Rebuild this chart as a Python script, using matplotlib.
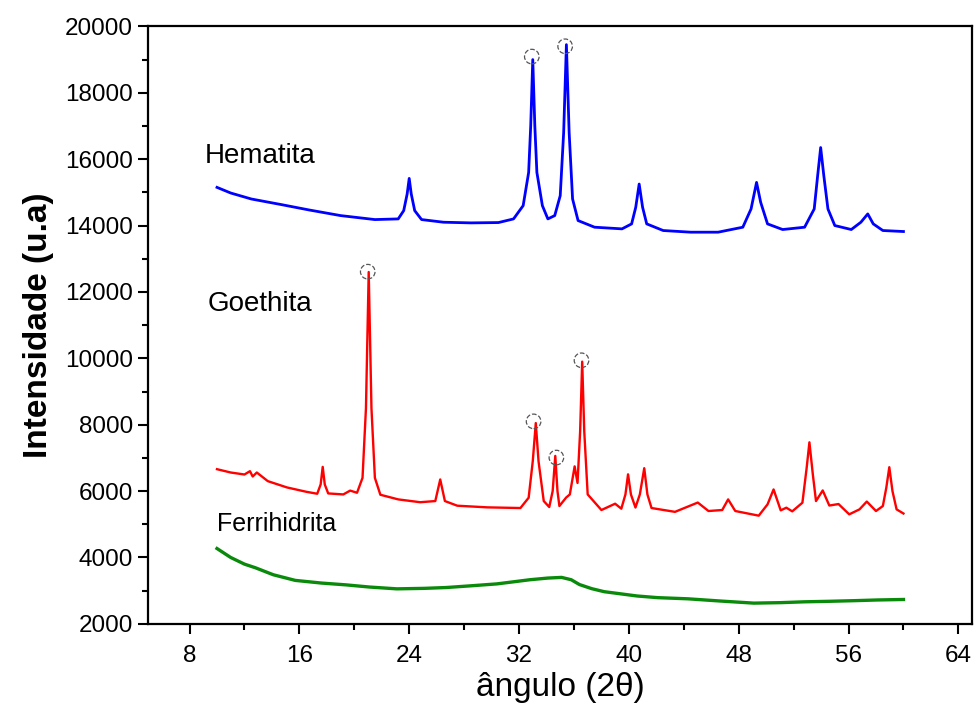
import matplotlib
matplotlib.use('Agg')
import matplotlib.pyplot as plt
from matplotlib.ticker import MultipleLocator

plt.rcParams['font.family'] = ['Liberation Sans', 'DejaVu Sans']

# Hematita (azul)
hem_x = [10.0, 11.0, 12.5, 14.7, 16.7, 19.0, 21.5, 23.2, 23.6, 23.85, 24.0, 24.15, 24.4, 24.9,
         26.5, 28.5, 30.5, 31.6, 32.3, 32.7, 32.85, 33.0, 33.15, 33.3, 33.7, 34.1, 34.6, 35.0,
         35.25, 35.45, 35.65, 35.9, 36.3, 37.5, 39.5, 40.2, 40.5, 40.75, 41.0, 41.3, 42.5, 44.5,
         46.5, 48.3, 48.9, 49.3, 49.6, 50.1, 51.2, 52.8, 53.5, 53.75, 53.97, 54.2, 54.5, 55.0,
         56.2, 56.9, 57.4, 57.8, 58.5, 60.0]
hem_y = [15150, 14980, 14800, 14630, 14470, 14300, 14180, 14200, 14450, 14950, 15420, 14950, 14450, 14180,
         14100, 14080, 14090, 14200, 14600, 15600, 17000, 19000, 17000, 15600, 14600, 14200, 14300, 14900,
         16800, 19450, 16800, 14800, 14150, 13950, 13900, 14050, 14550, 15250, 14550, 14050, 13850, 13800,
         13800, 13950, 14500, 15300, 14700, 14050, 13880, 13950, 14500, 15500, 16350, 15500, 14500, 14000,
         13880, 14100, 14350, 14050, 13850, 13820]

# Goethita (vermelho)
goe_x = [10.0, 11.0, 12.0, 12.4, 12.6, 12.9, 13.7, 15.1, 16.5, 17.3, 17.55, 17.7, 17.85, 18.1,
         19.2, 19.7, 20.2, 20.6, 20.85, 21.05, 21.25, 21.5, 21.9, 23.2, 24.8, 25.9, 26.26, 26.6,
         27.5, 29.7, 32.1, 32.7, 33.0, 33.22, 33.42, 33.8, 34.2, 34.45, 34.64, 34.8, 34.94, 35.43,
         35.7, 36.05, 36.26, 36.45, 36.6, 36.75, 37.0, 38.0, 39.0, 39.45, 39.75, 39.94, 40.15, 40.48,
         40.8, 41.12, 41.35, 41.65, 43.36, 45.02, 45.8, 46.8, 47.23, 47.75, 49.46, 50.1, 50.54, 51.06,
         51.47, 51.9, 52.64, 52.95, 53.15, 53.4, 53.63, 54.12, 54.6, 55.27, 56.05, 56.8, 57.33, 58.0,
         58.5, 58.75, 58.97, 59.2, 59.5, 60.0]
goe_y = [6660, 6560, 6500, 6600, 6440, 6560, 6300, 6110, 5980, 5920, 6200, 6730, 6200, 5930,
         5900, 6015, 5950, 6400, 8500, 12600, 8500, 6400, 5890, 5750, 5665, 5700, 6350, 5700,
         5560, 5510, 5490, 5800, 6900, 8050, 6900, 5700, 5520, 6000, 7060, 6000, 5550, 5805,
         5900, 6745, 6245, 7800, 9900, 7800, 5900, 5430, 5620, 5470, 5900, 6505, 5900, 5505,
         5900, 6690, 5900, 5490, 5375, 5655, 5400, 5430, 5750, 5400, 5260, 5600, 6050, 5420,
         5500, 5390, 5650, 6700, 7470, 6500, 5700, 6020, 5565, 5610, 5300, 5450, 5685, 5400,
         5550, 6100, 6720, 6000, 5450, 5325]

# Ferrihidrita (verde)
fer_x = [10.0, 11.0, 12.0, 12.8, 14.1, 15.7, 17.6, 19.4, 21.1, 23.1, 25.1, 26.7, 28.6, 30.4,
         32.8, 34.1, 35.1, 35.8, 36.4, 37.3, 38.2, 40.6, 42.1, 44.3, 46.6, 49.1, 51.1, 52.8,
         54.6, 56.5, 58.1, 60.0]
fer_y = [4270, 4000, 3800, 3690, 3480, 3310, 3230, 3175, 3110, 3055, 3070, 3095, 3150, 3205,
         3330, 3380, 3400, 3330, 3185, 3060, 2970, 2840, 2790, 2755, 2690, 2625, 2640, 2665,
         2680, 2700, 2720, 2735]

# picos marcados com circulos
hem_mark_x = [32.93, 35.36]
hem_mark_y = [19090, 19400]
goe_mark_x = [20.98, 33.06, 34.72, 36.55]
goe_mark_y = [12610, 8100, 7010, 9940]

fig = plt.figure(figsize=(9.76, 7.13), dpi=100)
ax = fig.add_axes([0.152, 0.125, 0.844, 0.838])

ax.plot(hem_x, hem_y, color='#0000ff', lw=2.0)
ax.plot(goe_x, goe_y, color='#ff0000', lw=1.7)
ax.plot(fer_x, fer_y, color='#0a8a0a', lw=2.4)

ax.scatter(hem_mark_x + goe_mark_x, hem_mark_y + goe_mark_y, s=110, facecolors='none',
           edgecolors='#555555', linewidths=0.9, linestyles='--', zorder=5)

ax.text(9.1, 16100, 'Hematita', fontsize=20, va='center', ha='left')
ax.text(9.3, 11650, 'Goethita', fontsize=20, va='center', ha='left')
ax.text(10.0, 5000, 'Ferrihidrita', fontsize=18, va='center', ha='left')

ax.set_xlim(5, 65)
ax.set_ylim(2000, 20000)
ax.xaxis.set_major_locator(MultipleLocator(8))
ax.xaxis.set_minor_locator(MultipleLocator(4))
ax.yaxis.set_major_locator(MultipleLocator(2000))
ax.yaxis.set_minor_locator(MultipleLocator(1000))
ax.tick_params(which='both', direction='out', width=1.5, top=False, right=False)
ax.tick_params(which='major', length=7)
ax.tick_params(which='minor', length=4)
ax.tick_params(axis='y', labelsize=17.5, pad=4)
ax.tick_params(axis='x', labelsize=17.5, pad=8)
for sp in ax.spines.values():
    sp.set_linewidth(1.6)

ax.set_xlabel('ângulo (2θ)', fontsize=24, labelpad=4)
ax.set_ylabel('Intensidade (u.a)', fontsize=24, fontweight='bold', labelpad=8)

fig.savefig('out.png', dpi=100, facecolor='white')
